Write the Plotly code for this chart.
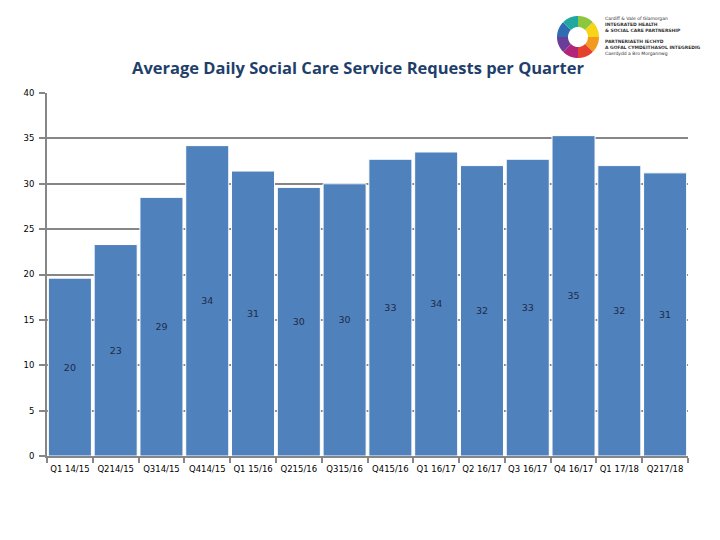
import math
import plotly.graph_objects as go

quarters = ["Q1 14/15", "Q2 14/15", "Q3 14/15", "Q4 14/15", "Q1 15/16", "Q2 15/16",
            "Q3 15/16", "Q4 15/16", "Q1 16/17", "Q2 16/17", "Q3 16/17", "Q4 16/17",
            "Q1 17/18", "Q2 17/18"]
tick_text = ["Q1 14/15", "Q214/15", "Q314/15", "Q414/15", "Q1 15/16", "Q215/16",
             "Q315/16", "Q415/16", "Q1 16/17", "Q2 16/17", "Q3 16/17", "Q4 16/17",
             "Q1 17/18", "Q217/18"]
requests = [19.6, 23.3, 28.5, 34.2, 31.4, 29.6, 30.0, 32.7, 33.5, 32.0, 32.7, 35.3, 32.0, 31.2]
labels = ["20", "23", "29", "34", "31", "30", "30", "33", "34", "32", "33", "35", "32", "31"]

logo_colors = ["#8DC63F", "#F7D417", "#F39A1E", "#E5412D", "#B2237A", "#6A3D98", "#2E6DB4", "#1FA7A0"]

W, H = 720, 540
OFF = 8  # page body margin
ML, MR, MT, MB = 47 - OFF, 40, 93 - OFF, 92
PW, PH = W - ML - MR, H - MT - MB


def px2paper(px, py):
    px -= OFF
    py -= OFF
    return (px - ML) / PW, (H - MB - py) / PH


fig = go.Figure()
fig.add_trace(go.Bar(
    x=quarters, y=requests, text=labels,
    textposition="inside", insidetextanchor="middle", textangle=0,
    textfont=dict(family="DejaVu Sans", size=9.5, color="#1F2A44"),
    marker=dict(color="#4F81BD", line=dict(color="#FFFFFF", width=1)),
    hoverinfo="x+y", showlegend=False,
))

# decorative partnership logo ring
shapes = []
cx, cy, r_out, r_in = 578, 37, 21, 10
n = len(logo_colors)
for i, col in enumerate(logo_colors):
    a0 = math.pi / 2 - i * 2 * math.pi / n
    a1 = math.pi / 2 - (i + 1) * 2 * math.pi / n
    pts = []
    steps = 10
    for k in range(steps + 1):
        a = a0 + (a1 - a0) * k / steps
        pts.append(px2paper(cx + r_out * math.cos(a), cy - r_out * math.sin(a)))
    for k in range(steps + 1):
        a = a1 + (a0 - a1) * k / steps
        pts.append(px2paper(cx + r_in * math.cos(a), cy - r_in * math.sin(a)))
    path = "M " + " L ".join(f"{x:.5f},{y:.5f}" for x, y in pts) + " Z"
    shapes.append(dict(type="path", path=path, xref="paper", yref="paper",
                       fillcolor=col, line=dict(width=0)))

tx, ty = px2paper(603, 14)
fig.add_annotation(
    text="Cardiff & Vale of Glamorgan<br><b>INTEGRATED HEALTH<br>& SOCIAL CARE PARTNERSHIP</b><br> <br><b>PARTNERIAETH IECHYD<br>A GOFAL CYMDEITHASOL INTEGREDIG</b><br>Caerdydd a Bro Morgannwg",
    xref="paper", yref="paper", x=tx, y=ty, xanchor="left", yanchor="top",
    showarrow=False, align="left",
    font=dict(family="DejaVu Sans", size=4.5, color="#333333"),
)

fig.update_layout(
    width=W, height=H,
    margin=dict(l=ML, r=MR, t=MT, b=MB, autoexpand=False),
    paper_bgcolor="white", plot_bgcolor="white",
    bargap=0.06,
    shapes=shapes,
    title=dict(
        text="<b>Average Daily Social Care Service Requests per Quarter</b>",
        x=(358 - OFF) / W, xanchor="center", yref="container", y=1 - (68 - OFF) / H, yanchor="middle",
        font=dict(family="Open Sans", size=16.5, color="#1F3F6B"),
    ),
    xaxis=dict(
        showline=True, linecolor="#868686", linewidth=2,
        ticks="outside", tickson="boundaries", ticklen=5, tickcolor="#868686", tickwidth=2,
        tickmode="array", tickvals=quarters, ticktext=tick_text, tickangle=0,
        tickfont=dict(family="DejaVu Sans", size=8.5, color="#000000"),
        ticklabelstandoff=4,
        showgrid=False, automargin=False,
    ),
    yaxis=dict(
        range=[0, 40], dtick=5, tick0=0,
        showline=True, linecolor="#868686", linewidth=2,
        ticks="outside", ticklen=6, tickcolor="#868686", tickwidth=2,
        showgrid=True, gridcolor="#868686", gridwidth=2,
        tickfont=dict(family="DejaVu Sans", size=8.5, color="#000000"),
        ticklabelstandoff=3,
        zeroline=False, automargin=False,
    ),
)

fig.write_html("out.html")
